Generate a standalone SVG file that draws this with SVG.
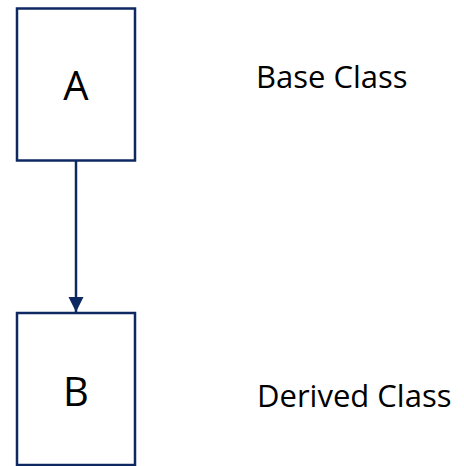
<svg xmlns="http://www.w3.org/2000/svg" width="464" height="466" viewBox="0 0 464 466">
  <defs>
    <marker id="arrow" markerWidth="16" markerHeight="16" refX="15" refY="8" orient="auto" markerUnits="userSpaceOnUse">
      <path d="M0,0.5 L15,8 L0,15.5 Z" fill="#0e2861"/>
    </marker>
  </defs>
  <style>
    .box { fill: #ffffff; stroke: #0e2861; stroke-width: 2.5; }
    .letter { font-family: "Open Sans", "Liberation Sans", sans-serif; font-size: 40px; fill: #000000; text-anchor: middle; }
    .caption { font-family: "Open Sans", "Liberation Sans", sans-serif; font-size: 31px; fill: #000000; }
    .link { stroke: #0e2861; stroke-width: 2.5; fill: none; }
  </style>
  <rect width="464" height="466" fill="#ffffff"/>

  <g id="connectors">
    <line class="link" x1="76" y1="161" x2="76" y2="312" marker-end="url(#arrow)"/>
  </g>

  <g id="node-a">
    <rect class="box" x="17" y="8.5" width="118" height="152"/>
    <text class="letter" x="76" y="100">A</text>
  </g>

  <g id="node-b">
    <rect class="box" x="17" y="313" width="118" height="152"/>
    <text class="letter" x="76" y="406">B</text>
  </g>

  <g id="label-base">
    <text class="caption" x="256" y="88">Base Class</text>
  </g>

  <g id="label-derived">
    <text class="caption" x="257" y="407">Derived Class</text>
  </g>
</svg>
